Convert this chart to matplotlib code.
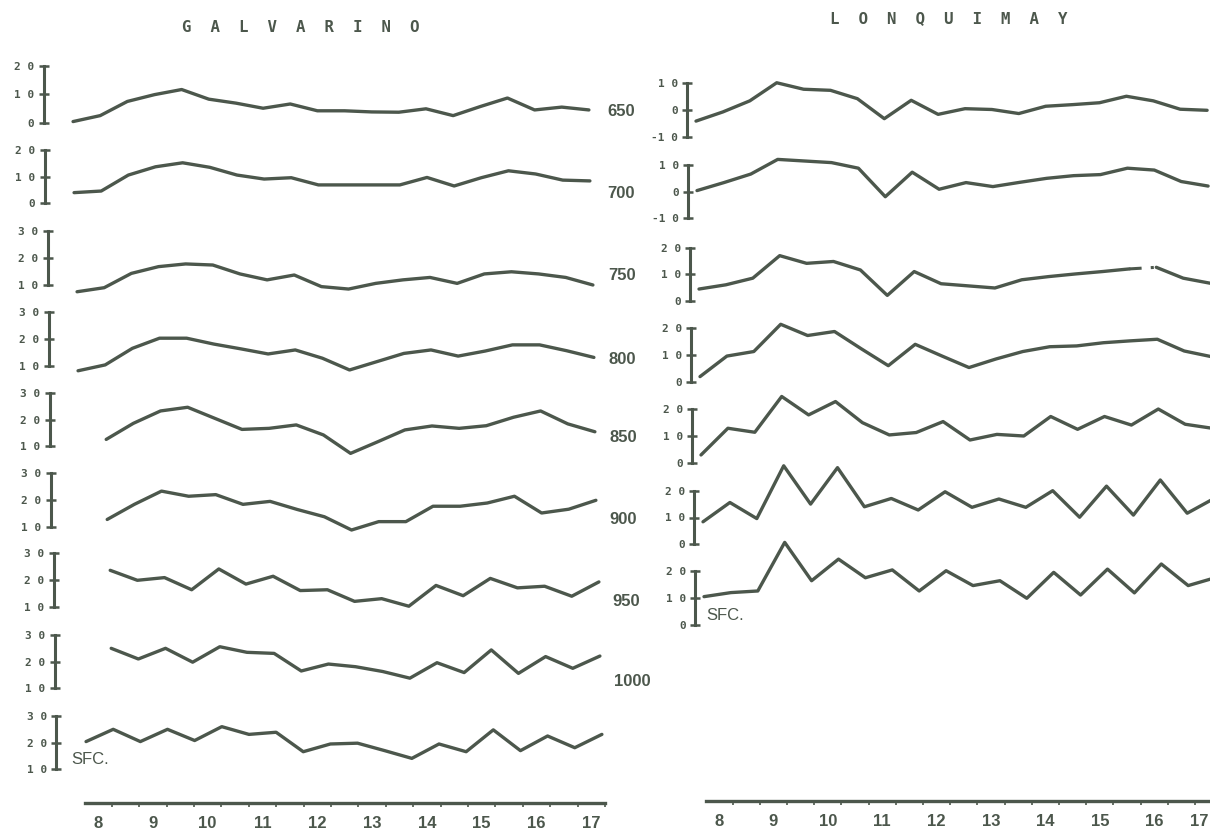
import matplotlib
matplotlib.use("Agg")
import matplotlib.pyplot as plt
from matplotlib.ticker import FixedLocator

# ---------------- data ----------------
# observation times (days of the month, twice daily)
times_full = [7.5, 8.0, 8.5, 9.0, 9.5, 10.0, 10.5, 11.0, 11.5, 12.0,
              12.5, 13.0, 13.5, 14.0, 14.5, 15.0, 15.5, 16.0, 16.5, 17.0]
times_late = [8.0, 8.5, 9.0, 9.5, 10.0, 10.5, 11.0, 11.5, 12.0,
              12.5, 13.0, 13.5, 14.0, 14.5, 15.0, 15.5, 16.0, 16.5, 17.0]
day_labels = [8, 9, 10, 11, 12, 13, 14, 15, 16, 17]

# GALVARINO
g_levels = ["650", "700", "750", "800", "850", "900", "950", "1000", "SFC."]
g_scales = [(0, 20), (0, 20), (10, 30), (10, 30), (10, 30), (10, 30), (10, 30), (10, 30), (10, 30)]
g650 = [0.4, 2.5, 7.5, 9.9, 11.7, 8.3, 6.9, 5.1, 6.6, 4.2, 4.2, 3.8, 3.7, 4.9, 2.5, 5.7, 8.7, 4.5, 5.5, 4.5]
g700 = [4.0, 4.6, 10.6, 13.7, 15.2, 13.5, 10.6, 9.1, 9.6, 6.9, 6.9, 6.9, 6.9, 9.7, 6.5, 9.6, 12.2, 11.0, 8.7, 8.4]
g750 = [7.5, 9.0, 14.3, 16.8, 17.8, 17.4, 14.1, 11.9, 13.7, 9.4, 8.5, 10.6, 11.9, 12.8, 10.6, 14.1, 14.9, 14.1, 12.8, 10.0]
g800 = [8.1, 10.3, 16.5, 20.3, 20.3, 18.1, 16.3, 14.4, 15.9, 12.8, 8.4, 11.5, 14.6, 15.9, 13.6, 15.5, 17.8, 17.8, 15.6, 13.1]
g850 = [12.5, 18.6, 23.3, 24.7, 20.5, 16.3, 16.7, 18.0, 14.2, 7.2, 11.6, 16.1, 17.6, 16.7, 17.7, 20.9, 23.3, 18.4, 15.4]
g900 = [12.9, 18.5, 23.4, 21.5, 22.1, 18.5, 19.6, 16.6, 13.9, 9.0, 12.1, 12.1, 17.8, 17.8, 19.0, 21.5, 15.3, 16.7, 20.0]
g950 = [23.7, 20.0, 21.0, 16.5, 24.2, 18.6, 21.5, 16.2, 16.5, 12.2, 13.2, 10.4, 18.1, 14.3, 20.7, 17.2, 17.8, 14.1, 19.4]
g1000 = [25.0, 21.0, 25.0, 19.8, 25.6, 23.5, 23.1, 16.5, 19.1, 18.1, 16.3, 13.8, 19.6, 15.9, 24.4, 15.6, 21.9, 17.5, 22.1]
gsfc = [20.4, 25.0, 20.4, 25.0, 20.8, 26.0, 23.1, 23.9, 16.6, 19.5, 19.8, 17.0, 14.1, 19.5, 16.6, 24.8, 17.0, 22.5, 18.1, 23.1]
g_series = [(times_full, g650), (times_full, g700), (times_full, g750), (times_full, g800),
            (times_late, g850), (times_late, g900), (times_late, g950), (times_late, g1000),
            (times_full, gsfc)]

# LONQUIMAY
l_levels = ["650", "700", "750", "800", "850", "900", "SFC."]
l_scales = [(-10, 10), (-10, 10), (0, 20), (0, 20), (0, 20), (0, 20), (0, 20)]
l650 = [-4.0, -0.6, 3.5, 10.2, 7.8, 7.4, 4.3, -3.1, 3.7, -1.5, 0.6, 0.3, -1.2, 1.5, 2.1, 2.8, 5.2, 3.5, 0.4, 0.0]
l700 = [0.4, 3.4, 6.6, 12.1, 11.5, 10.9, 8.8, -1.9, 7.3, 0.9, 3.4, 1.9, 3.5, 5.0, 6.0, 6.4, 8.8, 8.1, 3.8, 2.1]
l750 = [4.4, 6.0, 8.5, 17.0, 14.1, 14.8, 11.6, 2.0, 11.0, 6.4, 5.6, 4.8, 7.9, 9.1, 10.1, 11.0, 12.0, 12.6, 8.5, 6.6]
l800 = [1.9, 9.6, 11.3, 21.5, 17.3, 18.8, 12.3, 6.0, 14.0, 9.6, 5.3, 8.5, 11.3, 13.1, 13.4, 14.6, 15.3, 15.9, 11.5, 9.4]
l850 = [2.9, 12.9, 11.4, 24.8, 17.9, 22.9, 15.0, 10.4, 11.3, 15.4, 8.5, 10.6, 10.0, 17.3, 12.5, 17.3, 14.1, 20.1, 14.4, 12.9]
l900 = [8.4, 15.6, 9.6, 29.3, 15.0, 28.6, 14.0, 17.1, 12.8, 19.6, 13.8, 16.9, 13.8, 20.0, 10.1, 21.7, 10.9, 24.0, 11.6, 17.1]
lsfc = [10.5, 12.0, 12.6, 30.6, 16.4, 24.4, 17.5, 20.4, 12.6, 20.1, 14.6, 16.4, 9.9, 19.5, 11.1, 20.7, 11.9, 22.6, 14.6, 17.5]
l_series = [(times_full, s) for s in (l650, l700, l750, l800, l850, l900, lsfc)]

# ---------------- layout (pixels) ----------------
W, H = 1210, 836
INK = "#4c574c"
LAB_FONT = ["Liberation Sans Narrow", "Liberation Sans", "DejaVu Sans"]
MONO = "DejaVu Sans Mono"

fig = plt.figure(figsize=(W / 100, H / 100), dpi=100)
fig.patch.set_facecolor("white")

# per-row: (x shift, y px of top of scale bar, y px of bottom of scale bar)
g_rows = [(0, 66, 122.7), (1, 150, 203.3), (4, 231, 285), (5, 312.3, 365.7), (6, 393.3, 446),
          (7, 473.3, 527.3), (10, 553.3, 607.3), (11, 635, 688.3), (13, 716, 769.3)]
l_rows = [(0, 83.3, 137.3), (1, 165, 218.3), (3, 247.7, 300.7), (4, 328.3, 381.7),
          (5, 409.3, 462.7), (7, 490.7, 544.3), (8, 571, 625)]
# faded (broken) stretch of the LONQUIMAY 750 trace: indices of its end points
l_faded = {2: (16, 17)}

panels = {
    "left": dict(px0=0, px1=615, X0=100.2, P=54.3, bar_px=43.5),
    "right": dict(px0=640, px1=1210, X0=722.9, P=53.8, bar_px=687.0),
}


def spaced(v):
    s = str(int(v))
    if s.startswith("-"):
        return "-" + " ".join(s[1:])
    return " ".join(s)


def add_row(pan, row, scale, times, vals, faded=None):
    shift, y_hi, y_lo = row
    v_lo, v_hi = scale
    pad = 45
    top, bot = y_hi - pad, y_lo + pad
    ax = fig.add_axes([pan["px0"] / W, 1 - bot / H, (pan["px1"] - pan["px0"]) / W, (bot - top) / H])
    xo = pan["X0"] + shift
    ax.set_xlim(8 + (pan["px0"] - xo) / pan["P"], 8 + (pan["px1"] - xo) / pan["P"])
    ppu = (y_lo - y_hi) / (v_hi - v_lo)
    ax.set_ylim(v_lo - pad / ppu, v_hi + pad / ppu)
    ax.patch.set_alpha(0)
    for s in ("top", "right", "bottom"):
        ax.spines[s].set_visible(False)
    bar_day = 8 + (pan["bar_px"] - pan["X0"]) / pan["P"]
    sp = ax.spines["left"]
    sp.set_position(("data", bar_day))
    sp.set_bounds(v_lo, v_hi)
    sp.set_linewidth(2.2)
    sp.set_color(INK)
    ticks = [v_lo, (v_lo + v_hi) / 2, v_hi]
    ax.set_yticks(ticks)
    ax.set_yticklabels([spaced(t) for t in ticks], fontfamily=MONO, fontweight="bold",
                       fontsize=8, color=INK)
    ax.tick_params(axis="y", direction="inout", length=7, width=1.8, colors=INK, pad=3)
    ax.set_xticks([])
    kw = dict(color=INK, lw=2.4, clip_on=False, solid_joinstyle="round", solid_capstyle="round")
    if faded is None:
        ax.plot(times, vals, **kw)
    else:
        a, b = faded
        ax.plot(times[:a + 1], vals[:a + 1], **kw)
        ax.plot(times[a:b + 1], vals[a:b + 1], color=INK, lw=2.2, clip_on=False,
                linestyle=(0, (4, 3, 1, 3)))
        ax.plot(times[b:], vals[b:], **kw)
    return ax


for row, scale, (t, v) in zip(g_rows, g_scales, g_series):
    add_row(panels["left"], row, scale, t, v)
for i, (row, scale, (t, v)) in enumerate(zip(l_rows, l_scales, l_series)):
    add_row(panels["right"], row, scale, t, v, faded=l_faded.get(i))


def add_time_axis(px0, px1, X0, P, y_px, line0, line1, last_right=False):
    ax = fig.add_axes([px0 / W, 1 - y_px / H, (px1 - px0) / W, 0.02])
    ax.set_xlim(8 + (px0 - X0) / P, 8 + (px1 - X0) / P)
    ax.set_ylim(0, 1)
    ax.patch.set_alpha(0)
    for s in ("top", "left", "right"):
        ax.spines[s].set_visible(False)
    sp = ax.spines["bottom"]
    sp.set_linewidth(2.4)
    sp.set_color(INK)
    sp.set_bounds(8 + (line0 - X0) / P, 8 + (min(line1, px1) - X0) / P)
    ax.set_xticks(day_labels)
    ax.set_xticklabels([str(d) for d in day_labels], fontfamily=LAB_FONT, fontweight="bold",
                       fontsize=12, color=INK)
    if last_right:
        ax.get_xticklabels()[-1].set_horizontalalignment("right")
    minor = [d + f for d in range(7, 18) for f in (0.25, 0.75)
             if line0 < X0 + (d + f - 8) * P < line1]
    ax.xaxis.set_minor_locator(FixedLocator(minor))
    ax.tick_params(axis="x", which="major", length=0, pad=9)
    ax.tick_params(axis="x", which="minor", length=3, width=1.2, direction="out", color=INK)
    ax.set_yticks([])


add_time_axis(0, 615, 98.0, 54.8, 803, 85, 605)
add_time_axis(640, 1210, 719.0, 54.4, 801, 706, 1215, last_right=True)

# titles
fig.text(301 / W, 1 - 27 / H, "G  A  L  V  A  R  I  N  O", ha="center", va="center",
         fontfamily=MONO, fontweight="bold", fontsize=11.3, color=INK)
fig.text(949 / W, 1 - 19 / H, "L  O  N  Q  U  I  M  A  Y", ha="center", va="center",
         fontfamily=MONO, fontweight="bold", fontsize=11.3, color=INK)

# level labels between the panels
level_pos = [(621, 112), (621, 193), (622, 276), (622, 360), (623, 437), (623, 520), (626, 601), (632, 681)]
for name, (x, y) in zip(g_levels[:-1], level_pos):
    fig.text(x / W, 1 - y / H, name, ha="center", va="center", fontfamily=LAB_FONT,
             fontweight="bold", fontsize=12, color=INK)

# surface labels
fig.text(71 / W, 1 - 759 / H, g_levels[-1], ha="left", va="center", fontfamily=LAB_FONT,
         fontsize=12, color=INK)
fig.text(706 / W, 1 - 615 / H, l_levels[-1], ha="left", va="center", fontfamily=LAB_FONT,
         fontsize=12, color=INK)

fig.savefig("out.png", dpi=100, facecolor="white")
